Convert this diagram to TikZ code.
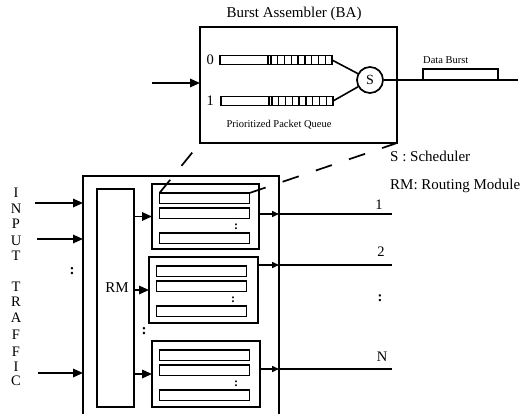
\documentclass[tikz,border=0pt]{standalone}
\usepackage{fontspec}
\setmainfont{Liberation Serif}
\usetikzlibrary{arrows.meta}
\begin{document}
\begin{tikzpicture}[x=1pt,y=-1pt,
  box/.style={draw, line width=1.9pt, inner sep=0pt, outer sep=0pt, anchor=north west},
  bar/.style={box, line width=1.8pt, minimum width=90pt, minimum height=10.5pt},
  ibox/.style={box},
  ln/.style={line width=1.6pt},
  cell/.style={line width=1.4pt},
  arr/.style={line width=1.7pt, -{Triangle[length=10pt,width=8.5pt]}},
  arrs/.style={line width=1.5pt, -{Triangle[length=7pt,width=6pt]}},
  dsh/.style={line width=1.7pt, dash pattern=on 17pt off 18pt},
  big/.style={inner sep=0pt, font=\fontsize{15}{18}\selectfont},
  mid/.style={inner sep=0pt, font=\fontsize{14.5}{16}\selectfont},
  small/.style={inner sep=0pt, font=\fontsize{10.5}{12}\selectfont},
  dots/.style={inner sep=0pt, font=\fontsize{12}{14}\selectfont\bfseries}]
\useasboundingbox (0,0) rectangle (529,414);

% ---------- Burst Assembler ----------
\node[big] (title) at (294,14) {Burst Assembler (BA)};
\node[box, minimum width=197pt, minimum height=116pt] (BA) at (200,27) {};
\node[box, line width=1.7pt, minimum width=112pt, minimum height=9pt] (q0) at (220,55.5) {};
\node[box, line width=1.7pt, minimum width=112pt, minimum height=9pt] (q1) at (221,96.5) {};
\foreach \q in {q0,q1}{
  \draw[cell] ([xshift=48pt]\q.north west) -- ([xshift=48pt]\q.south west);
  \foreach \k in {0,...,8}{
    \pgfmathsetmacro{\cx}{51+\k*6.78}
    \draw[cell] ([xshift=\cx pt]\q.north west) -- ([xshift=\cx pt]\q.south west);
  }
}
\node[mid, anchor=east] (l0) at (214,60) {0};
\node[mid, anchor=east] (l1) at (214,101) {1};
\node[draw, circle, line width=1.7pt, minimum size=26pt, inner sep=0pt, font=\fontsize{14}{16}\selectfont] (S) at (370,80) {S};
\draw[ln] (q0.east) -- (S);
\draw[ln] (q1.east) -- (S);
\coordinate (baout) at (518,80);
\draw[ln] (S.east) -- (baout);
\node[box, line width=1.6pt, minimum width=75pt, minimum height=11pt] (DB) at (423,69) {};
\node[small, anchor=west] (dbl) at (423,60) {Data Burst};
\node[small] (ppq) at (279,125) {Prioritized Packet Queue};
\coordinate (bain) at (152,83);
\draw[arr] (bain) -- (bain -| BA.west);

% ---------- legend ----------
\node[big, anchor=west] (legS) at (390,156) {S : Scheduler};
\node[big, anchor=west] (legRM) at (390,186) {RM: Routing Module};

% ---------- outer box ----------
\node[inner sep=0pt, outer sep=0pt, minimum width=196pt, minimum height=238pt, anchor=north west] (outer) at (83,176) {};
\draw[line width=1.9pt] (outer.south west) |- (outer.north east) -- (outer.south east);

\node[box, minimum width=37pt, minimum height=218pt] (RM) at (97,189) {};
\node[big] (rml) at (117,288) {RM};

\node[ibox, minimum width=107pt, minimum height=65pt] (B1) at (152,184) {};
\node[ibox, minimum width=109pt, minimum height=66pt] (B2) at (149,257) {};
\node[ibox, minimum width=108pt, minimum height=66pt] (B3) at (152,341) {};
\foreach \b in {1,2,3}{
  \node[bar] (b\b1) at ([shift={(7.5pt,-9pt)}]B\b.north west) {};
  \node[bar] (b\b2) at ([shift={(7.5pt,-24pt)}]B\b.north west) {};
  \node[bar] (b\b3) at ([shift={(7.5pt,-49pt)}]B\b.north west) {};
  \node[dots] (d\b) at ([shift={(84pt,-43pt)}]B\b.north west) {:};
  \draw[arr] (B\b.west -| RM.east) -- (B\b.west);
}
\node[big, font=\fontsize{15}{18}\selectfont\bfseries] (rmdots) at (144,331) {:};

% dashed zoom lines
\draw[dsh] (b11.north west) -- (BA.south west);
\draw[dsh] (b11.north east) -- (BA.south east);

% input traffic
\coordinate (i1) at (35,203);
\coordinate (i2) at (37,239);
\coordinate (i3) at (38,373);
\foreach \i in {1,2,3}{ \draw[arr] (i\i) -- (i\i -| outer.west); }
\node[big, font=\fontsize{15}{18}\selectfont\bfseries] (indots) at (72,271) {:};
\foreach \c/\y [count=\n] in {I/193,N/209,P/224,U/241,T/256,T/287,R/302,A/318,F/335,F/352,I/367,C/381}{
  \node[mid] (t\n) at (16,\y) {\c};
}

% outputs
\coordinate (o1) at (392,214);
\coordinate (o2) at (392,265);
\coordinate (o3) at (392,369);
\draw[arrs] (o1 -| B1.east) -- (o1 -| outer.east);
\draw[arrs] (o2 -| B2.east) -- (o2 -| outer.east);
\draw[arrs] (o3 -| B3.east) -- (o3 -| outer.east);
\foreach \i in {1,2,3}{ \draw[ln] (o\i -| outer.east) -- (o\i); }
\node[mid] (n1) at (379,205) {1};
\node[mid] (n2) at (381,252) {2};
\node[mid, font=\fontsize{14.5}{16}\selectfont\bfseries] (nd) at (380,298) {:};
\node[mid] (nN) at (382,357) {N};
\end{tikzpicture}
\end{document}
